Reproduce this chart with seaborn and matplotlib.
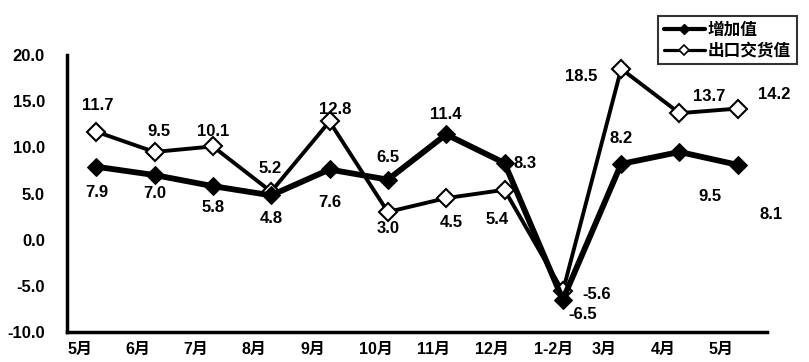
import numpy as np
import matplotlib
matplotlib.use("Agg")
import matplotlib.pyplot as plt
import seaborn as sns
from matplotlib.lines import Line2D

# datos
months = ["5月", "6月", "7月", "8月", "9月", "10月", "11月", "12月", "1-2月", "3月", "4月", "5月"]
added_value = [7.9, 7.0, 5.8, 4.8, 7.6, 6.5, 11.4, 8.3, -6.5, 8.2, 9.5, 8.1]
export_value = [11.7, 9.5, 10.1, 5.2, 12.8, 3.0, 4.5, 5.4, -5.6, 18.5, 13.7, 14.2]

sns.set_style("white")
plt.rcParams["font.family"] = ["Liberation Sans", "Noto Sans CJK SC"]
plt.rcParams["font.weight"] = "bold"
plt.rcParams["text.color"] = "black"

fig = plt.figure(figsize=(8.09, 3.62), dpi=100)
ax = fig.add_axes([67 / 809, 1 - 332 / 362, 700 / 809, 277 / 362])

x = np.arange(len(months))

sns.lineplot(x=x, y=export_value, ax=ax, color="black", linewidth=2.8,
             marker="D", markersize=9, markerfacecolor="white",
             markeredgecolor="black", markeredgewidth=1.5)
sns.lineplot(x=x, y=added_value, ax=ax, color="black", linewidth=4.2,
             marker="D", markersize=9, markerfacecolor="black",
             markeredgecolor="black")

# posiciones de las etiquetas (pixeles)
export_off = [(2, 26), (4, 20), (0, 15), (-1, 23), (6, 12), (0, -17),
              (5, -24), (-7, -30), (34, -3), (-40, -8), (30, 17), (36, 14)]
added_off = [(1, -26), (0, -18), (0, -21), (0, -23), (0, -33), (0, 22),
             (0, 20), (21, 0), (20, -15), (0, 25), (30, -45), (33, -50)]

for i, v in enumerate(export_value):
    ax.annotate(f"{v:.1f}", (x[i], v), xytext=export_off[i], textcoords="offset pixels",
                ha="center", va="center", fontsize=12, fontweight="bold", color="black")
for i, v in enumerate(added_value):
    ax.annotate(f"{v:.1f}", (x[i], v), xytext=added_off[i], textcoords="offset pixels",
                ha="center", va="center", fontsize=12, fontweight="bold", color="black")

ax.set_xlim(-0.5, len(months) - 0.5)
ax.set_ylim(-10, 20)
ax.set_yticks(np.arange(-10, 21, 5))
ax.set_yticklabels([f"{t:.1f}" for t in np.arange(-10, 21, 5)], fontsize=12, fontweight="bold")
ax.set_xticks(np.arange(-0.5, len(months), 1))
ax.set_xticklabels(months + [""], fontsize=11.5, fontweight="bold", ha="left")

ax.tick_params(axis="y", direction="in", length=5, width=2, pad=16, colors="black")
ax.tick_params(axis="x", direction="in", length=5, width=1.5, pad=7, colors="black")

for s in ["top", "right"]:
    ax.spines[s].set_visible(False)
ax.spines["left"].set_linewidth(2.5)
ax.spines["bottom"].set_linewidth(2.5)
ax.spines["left"].set_color("black")
ax.spines["bottom"].set_color("black")
ax.set_xlabel("")
ax.set_ylabel("")

handles = [
    Line2D([], [], color="black", linewidth=3, marker="D", markersize=5,
           markerfacecolor="black"),
    Line2D([], [], color="black", linewidth=2.3, marker="D", markersize=5,
           markerfacecolor="white", markeredgewidth=1.2),
]
leg = fig.legend(handles, ["增加值", "出口交货值"], loc="upper right",
                 bbox_to_anchor=(805 / 809, 1 - 8 / 362), frameon=True, fancybox=False,
                 prop={"size": 12, "weight": "bold"}, handlelength=2.5,
                 borderpad=0.35, labelspacing=0.3, handletextpad=0.15)
leg.get_frame().set_edgecolor("black")
leg.get_frame().set_linewidth(1.5)
for t in leg.get_texts():
    t.set_color("black")

fig.savefig("out.png", dpi=100)
